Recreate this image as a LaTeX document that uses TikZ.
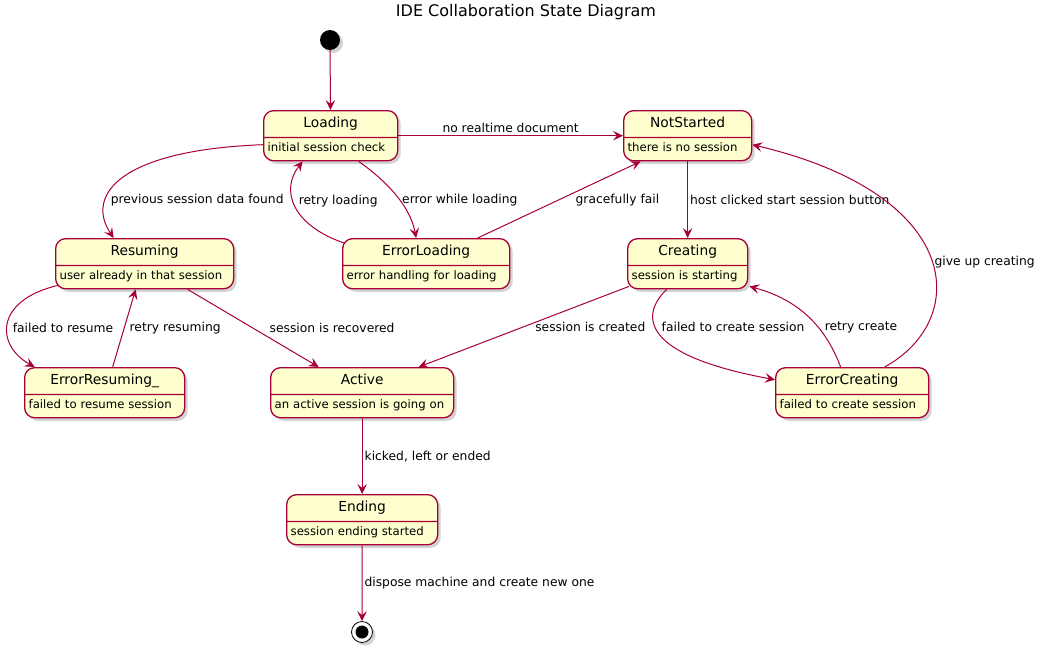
\documentclass[tikz,border=0pt]{standalone}
\usepackage{fontspec}
\setmainfont{DejaVu Sans}
\usetikzlibrary{shapes.multipart,shadows,arrows.meta}
\definecolor{umlred}{HTML}{A80036}
\definecolor{umlfill}{HTML}{FEFECE}
\newcommand\stname[1]{\hbox to\hsize{\hfil\strut #1\hfil}}
\tikzset{
    shade3/.style={drop shadow={shadow xshift=3pt,shadow yshift=-3pt,opacity=0.35}},
    state/.style={rectangle split, rectangle split parts=2, anchor=north west,
        rounded corners=10pt, draw=umlred, fill=umlfill, line width=1.3pt,
        inner xsep=4pt, inner ysep=4pt, shade3,
        every text node part/.style={font=\fontsize{13.8}{17.5}\selectfont},
        every two node part/.style={font=\fontsize{11.7}{14}\selectfont}},
    trans/.style={draw=umlred, line width=1pt, -{Stealth[length=10pt,width=9.5pt,inset=4pt]}},
    lbl/.style={font=\fontsize{12.3}{14.8}\selectfont, inner sep=1pt}
}

\begin{document}
\begin{tikzpicture}[x=1pt,y=-1pt]
    \useasboundingbox (0,0) rectangle (1043,653);
    \node[font=\fontsize{16}{19}\selectfont] (title) at (526,12) {IDE Collaboration State Diagram};
    % pseudo states
    \node[circle, fill=black, minimum size=20pt, inner sep=0pt, shade3] (start) at (330,40) {};
    \node[circle, draw=black, fill=white, line width=0.8pt, minimum size=21pt, inner sep=0pt, shade3,
        path picture={\fill[black] (path picture bounding box.center) circle (6.5pt);}] (stop) at (362,632) {};
    % states
    \node[state, text width=126pt] (loading) at (263,110) {\stname{Loading}\nodepart{two}\strut initial session check};
    \node[state, text width=120pt] (notstarted) at (623,110) {\stname{NotStarted}\nodepart{two}\strut there is no session};
    \node[state, text width=170pt] (resuming) at (55,238) {\stname{Resuming}\nodepart{two}\strut user already in that session};
    \node[state, text width=159pt] (errorloading) at (342,238) {\stname{ErrorLoading}\nodepart{two}\strut error handling for loading};
    \node[state, text width=112pt] (creating) at (627,238) {\stname{Creating}\nodepart{two}\strut session is starting};
    \node[state, text width=152pt] (errorresuming) at (24,367) {\stname{ErrorResuming\_}\nodepart{two}\strut failed to resume session};
    \node[state, text width=175pt] (active) at (270,367) {\stname{Active}\nodepart{two}\strut an active session is going on};
    \node[state, text width=145pt] (errorcreating) at (775,367) {\stname{ErrorCreating}\nodepart{two}\strut failed to create session};
    \node[state, text width=143pt] (ending) at (286,494) {\stname{Ending}\nodepart{two}\strut session ending started};
    % transitions
    \draw[trans] (start) -- (loading);
    \draw[trans] (loading) -- node[lbl, above=2pt] {no realtime document} (notstarted);
    \draw[trans] ([yshift=-9pt]loading.west) .. controls (120,150) and (85,195) .. ([xshift=-31pt]resuming.north)
        node[lbl, pos=0.7, anchor=west, xshift=3pt] {previous session data found};
    \draw[trans] ([xshift=28pt]loading.south) .. controls (385,180) and (410,205) .. ([xshift=-10pt]errorloading.north)
        node[lbl, pos=0.58, anchor=west, xshift=1pt] {error while loading};
    \draw[trans] ([xshift=2pt,yshift=-5pt]errorloading.north west) .. controls (292,225) and (280,190) .. ([xshift=-28pt]loading.south)
        node[lbl, pos=0.56, anchor=west, xshift=4pt] {retry loading};
    \draw[trans] ([xshift=51.5pt]errorloading.north) -- node[lbl, pos=0.5, anchor=west, xshift=15pt] {gracefully fail} ([xshift=-47pt]notstarted.south);
    \draw[trans] (notstarted) -- node[lbl, pos=0.5, anchor=west, xshift=1pt] {host clicked start session button} (creating);
    \draw[trans] ([xshift=3pt,yshift=4pt]resuming.south west) .. controls (-5,300) and (-5,345) .. ([xshift=-70pt]errorresuming.north)
        node[lbl, pos=0.55, anchor=west, xshift=4pt] {failed to resume};
    \draw[trans] ([xshift=8pt]errorresuming.north) -- node[lbl, pos=0.5, anchor=west, xshift=4pt] {retry resuming} ([xshift=-9pt]resuming.south);
    \draw[trans] ([xshift=43pt]resuming.south) -- node[lbl, pos=0.5, anchor=west, xshift=15pt] {session is recovered} ([xshift=-43.5pt]active.north);
    \draw[trans] ([xshift=2pt,yshift=3pt]creating.south west) -- node[lbl, pos=0.5, anchor=west, xshift=10pt] {session is created} ([xshift=56.5pt]active.north);
    \draw[trans] ([xshift=-21pt]creating.south) .. controls (640,315) and (640,355) .. ([yshift=13pt]errorcreating.west)
        node[lbl, pos=0.42, anchor=west, xshift=5pt] {failed to create session};
    \draw[trans] ([xshift=-11.5pt]errorcreating.north) .. controls (826,328) and (800,300) .. ([xshift=1pt,yshift=3pt]creating.south east)
        node[lbl, pos=0.38, anchor=west, xshift=5pt] {retry create};
    \draw[trans] ([xshift=32.5pt]errorcreating.north) .. controls (970,320) and (965,195) .. ([yshift=-9pt]notstarted.east)
        node[lbl, pos=0.48, anchor=west, xshift=1pt] {give up creating};
    \draw[trans] (active) -- node[lbl, pos=0.5, anchor=west, xshift=1pt] {kicked, left or ended} (ending);
    \draw[trans] (ending) -- node[lbl, pos=0.5, anchor=west, xshift=1pt] {dispose machine and create new one} (stop);
\end{tikzpicture}
\end{document}
